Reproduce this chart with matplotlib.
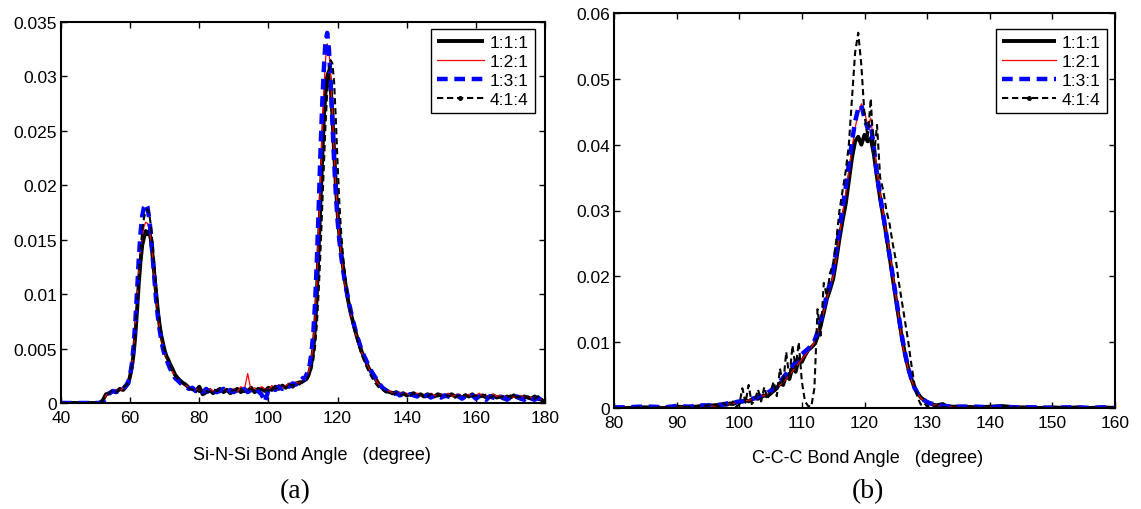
import numpy as np
import matplotlib
matplotlib.use("Agg")
import matplotlib.pyplot as plt
from matplotlib.lines import Line2D
from matplotlib.ticker import FuncFormatter, MultipleLocator

plt.rcParams['font.family'] = ['Liberation Sans', 'DejaVu Sans']

# ---------------- data (a): Si-N-Si bond angle distribution ----------------
angle_a = np.concatenate([
    np.arange(40, 60, 1.0),        # 40..59
    np.arange(59.5, 72.5, 0.5),    # 59.5..72
    np.arange(73, 110, 1.0),       # 73..109
    np.arange(109.5, 126.5, 0.5),  # 109.5..126
    np.arange(127, 181, 1.0),      # 127..180
])

# values in units of 1e-4
a_111 = [0,0,0,0,0,0,0,0,0,0,0,0,2,8,9,11,10,13,12,16,
         18,25,33,45,62,85,110,130,145,152,158,155,158,150,135,118,100,85,72,62,55,48,43,40,36,33,
         26,22,19,17,14,13,11,15,8,10,12,9,11,13,10,12,9,11,13,10,12,11,14,10,12,13,11,14,12,15,13,16,14,17,15,18,19,
         19,20,21,22,25,30,38,50,70,100,140,180,220,260,285,300,305,290,265,230,200,175,155,140,127,115,105,95,87,80,74,68,62,57,
         47,40,32,27,22,17,14,12,10,9,10,8,9,7,8,9,7,8,6,8,7,6,8,7,6,7,8,6,7,5,7,6,8,5,6,7,5,6,7,5,6,4,6,5,7,5,4,6,5,4,6,4,3,0]
a_121 = [0,0,0,0,0,0,0,0,0,0,0,0,1,7,10,10,12,11,14,18,
         20,27,36,50,70,93,118,138,153,162,166,165,160,150,135,117,98,82,70,60,52,46,41,37,33,30,
         25,21,18,16,15,12,13,11,12,10,13,11,12,10,14,11,12,13,10,15,12,27,11,14,12,15,13,12,16,13,17,14,16,18,15,19,18,
         20,22,21,24,27,33,42,56,80,112,155,200,245,285,315,330,325,300,265,228,197,172,152,137,124,113,103,94,86,79,72,66,61,56,
         46,39,32,26,21,17,14,12,11,9,8,10,8,9,7,8,9,7,8,6,9,7,6,8,7,9,6,7,8,6,7,8,6,7,9,6,7,5,8,6,7,5,6,7,5,6,7,5,6,5,4,5,3,0]
a_131 = [0,0,0,0,0,0,0,0,0,0,0,0,0,5,9,11,10,12,13,17,
         20,26,36,52,75,102,132,156,172,180,183,180,170,155,135,114,95,80,68,58,50,44,40,36,32,29,
         23,20,17,15,13,14,11,12,10,13,9,12,10,11,13,9,12,10,12,11,13,10,12,14,11,8,1,12,14,12,15,13,16,15,18,17,20,
         21,23,22,26,30,36,48,65,92,130,175,225,270,305,332,340,325,295,258,222,192,168,150,136,124,114,105,97,89,82,75,69,63,58,
         48,41,34,28,23,18,14,11,9,8,9,7,8,6,8,7,6,8,6,7,5,7,6,5,7,6,5,7,6,4,6,5,7,4,6,5,3,6,5,4,6,5,3,5,4,6,4,3,5,4,3,5,2,0]
a_414 = [0,0,0,0,0,0,0,0,0,0,0,0,2,7,9,12,10,12,14,17,
         20,26,34,46,64,88,115,140,158,170,176,178,174,163,146,126,106,89,75,64,55,48,43,39,35,31,
         25,21,19,16,14,12,13,10,12,11,10,13,11,12,10,13,11,12,11,13,10,12,13,11,14,12,13,11,15,13,14,16,14,17,16,18,17,
         19,20,21,22,24,27,32,40,52,72,100,135,175,215,255,285,305,315,312,295,260,220,185,158,138,122,108,97,88,80,73,66,60,54,
         44,36,29,23,18,14,12,10,9,8,9,7,8,8,7,9,6,8,7,6,8,7,6,7,8,6,7,5,7,6,8,5,6,7,5,6,8,5,6,7,5,6,5,7,4,6,5,4,6,5,4,6,3,0]

# ---------------- data (b): C-C-C bond angle distribution ----------------
angle_b = np.concatenate([
    np.arange(80, 97, 2.0),        # 80..96
    np.arange(97, 133.5, 0.5),     # 97..133
    np.arange(134, 161, 2.0),      # 134..160
])

b_111 = [1,0,1,1,0,2,1,3,4,
         5,6,5,7,6,8,9,10,12,10,13,15,14,17,19,18,22,26,30,38,35,50,44,62,55,75,70,80,88,92,
         97,108,125,145,166,180,196,225,257,285,310,345,380,405,412,400,415,405,410,385,
         350,318,290,262,230,198,166,135,105,80,60,44,30,22,16,12,9,7,5,4,5,6,3,
         2,2,1,2,3,1,1,0,1,0,1,0,1,0]
b_121 = [0,1,0,1,1,1,2,2,3,
         4,5,6,6,7,8,8,9,11,12,12,14,16,17,19,21,23,27,31,35,39,44,50,56,62,68,74,80,86,92,
         100,112,128,146,166,184,200,228,262,295,325,360,395,425,448,462,450,430,440,400,
         360,325,295,265,235,205,170,135,100,78,58,42,30,21,15,11,8,6,5,4,3,3,2,
         2,1,1,1,0,1,1,0,0,1,0,0,1,0]
b_131 = [1,1,2,2,1,3,2,4,4,
         5,5,7,7,8,9,10,10,11,13,14,15,17,19,21,23,26,30,35,40,46,52,58,64,70,76,82,86,90,95,
         102,115,132,152,172,190,210,240,272,305,335,370,405,435,455,460,440,425,432,395,
         355,322,293,262,232,202,170,138,108,82,60,44,31,22,16,12,9,7,6,5,4,3,3,
         2,2,2,1,2,1,1,1,0,1,1,0,1,0]
b_414 = [0,0,1,0,1,0,2,3,5,
         2,8,3,4,10,2,5,30,8,35,6,12,28,10,32,14,25,40,18,60,35,85,45,95,60,100,40,10,3,2,
         30,150,110,190,170,205,220,255,300,330,360,400,470,540,570,520,445,410,470,380,
         430,350,330,300,280,250,225,190,160,130,100,65,35,15,5,8,2,4,1,3,1,2,1,
         1,0,1,0,0,1,0,0,0,1,0,0,0,0]

labels = ['1:1:1', '1:2:1', '1:3:1', '4:1:4']

# ---------------- figure ----------------
W, H = 1141, 510
fig = plt.figure(figsize=(W / 100, H / 100), dpi=100)

def px_axes(l, t, r, b):
    return fig.add_axes([l / W, 1 - b / H, (r - l) / W, (b - t) / H])

ax1 = px_axes(61, 23, 545, 404)
ax2 = px_axes(614, 14, 1115, 409)

styles = [
    dict(color='black', lw=2.8, ls='-', solid_capstyle='butt'),
    dict(color='red', lw=0.9, ls='-'),
    dict(color='blue', lw=3.2, ls=(0, (2.4, 1.5))),
    dict(color='black', lw=1.5, ls=(0, (3.0, 1.8))),
]

def draw(ax, x, series, xlim, ylim, ystep, xstep, xlabel, label_cx, label_y,
         panel, panel_x, leg_anchor, hl):
    for ys, st in zip(series, styles):
        ax.plot(x, np.array(ys) * 1e-4, **st)
    ax.set_xlim(*xlim)
    ax.set_ylim(*ylim)
    ax.xaxis.set_major_locator(MultipleLocator(xstep))
    ax.yaxis.set_major_locator(MultipleLocator(ystep))
    ax.yaxis.set_major_formatter(FuncFormatter(lambda v, p: '%g' % round(v, 6)))
    ax.tick_params(direction='in', length=4.5, width=1.0, top=True, right=True,
                   labelsize=12.5)
    ax.tick_params(axis='x', pad=5)
    ax.tick_params(axis='y', pad=3)
    for s in ax.spines.values():
        s.set_linewidth(1.5)
    fig.text(label_cx / W, 1 - label_y / H, xlabel, ha='center', va='center',
             fontsize=13)
    fig.text(panel_x / W, 1 - 492 / H, panel, ha='center', va='center',
             fontsize=20, family=['Liberation Serif', 'DejaVu Serif'])
    handles = [Line2D([], [], **st) for st in styles]
    handles[3] = Line2D([], [], color='black', lw=1.5, ls=(0, (3.0, 1.8)),
                        marker='.', markersize=5)
    leg = ax.legend(handles, labels, loc='upper right', bbox_to_anchor=leg_anchor,
                    borderaxespad=0, fontsize=12.5, handlelength=hl,
                    handletextpad=0.35, labelspacing=0.22, borderpad=0.35,
                    fancybox=False, framealpha=1, edgecolor='black', numpoints=1)
    leg.get_frame().set_linewidth(1.0)

draw(ax1, angle_a, [a_111, a_121, a_131, a_414], (40, 180), (0, 0.035), 0.005, 20,
     'Si-N-Si Bond Angle   (degree)', 312, 455, '(a)', 295, (0.979, 0.982), 2.7)
draw(ax2, angle_b, [b_111, b_121, b_131, b_414], (80, 160), (0, 0.06), 0.01, 10,
     'C-C-C Bond Angle   (degree)', 868, 459, '(b)', 868, (0.984, 0.96), 3.1)

fig.savefig('out.png', dpi=100)
